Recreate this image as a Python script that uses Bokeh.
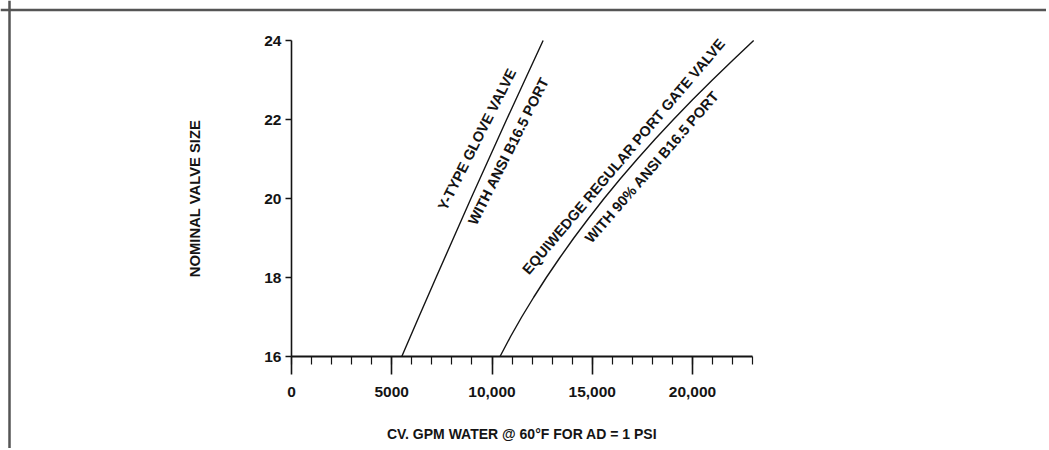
import math
from bokeh.plotting import figure
from bokeh.models import Range1d, FixedTicker, Span
from bokeh.core.properties import value
from bokeh.embed import file_html
from bokeh.resources import INLINE

# ---------------- data ----------------
glove_sizes = [16, 17, 18, 19, 20, 21, 22, 23, 24]
glove_cv = [5500, 6350, 7210, 8080, 8950, 9840, 10730, 11640, 12550]

gate_sizes = [16, 16.5, 17, 17.5, 18, 18.5, 19, 19.5, 20, 20.5,
              21, 21.5, 22, 22.5, 23, 23.5, 24]
gate_cv = [10400, 10920, 11480, 12080, 12710, 13380, 14080, 14820, 15590, 16400,
           17250, 18130, 19050, 20000, 20990, 22010, 23050]

x_major_ticks = [0, 5000, 10000, 15000, 20000]
x_major_labels = ["0", "5000", "10,000", "15,000", "20,000"]
x_minor_ticks = list(range(0, 24000, 1000))
y_ticks = [16, 18, 20, 22, 24]
y_labels = ["16", "18", "20", "22", "24"]

x_title = "CV. GPM WATER @ 60°F FOR AD = 1 PSI"
y_title = "NOMINAL VALVE SIZE"

glove_label_1 = "Y-TYPE GLOVE VALVE"
glove_label_2 = "WITH ANSI B16.5 PORT"
gate_label_1 = "EQUIWEDGE REGULAR PORT GATE VALVE"
gate_label_2 = "WITH 90% ANSI B16.5 PORT"

# ---------------- layout ----------------
W, H = 1046, 448
px_x0, px_per_1000 = 291.0, 20.05      # canvas px of x=0
py_16, py_per_unit = 356.0, 39.5       # canvas px (from top) of y=16

x_start = -px_x0 / px_per_1000 * 1000
x_end = x_start + W / px_per_1000 * 1000
y_end = 16 + py_16 / py_per_unit
y_start = y_end - H / py_per_unit

FONT = "Liberation Sans"
INK = "#141414"

p = figure(width=W, height=H, x_range=Range1d(x_start, x_end),
           y_range=Range1d(y_start, y_end), output_backend="svg",
           toolbar_location=None, min_border=0)
p.grid.visible = False
p.outline_line_color = None
p.background_fill_color = "white"
p.border_fill_color = "white"

# x axis
xa = p.xaxis[0]
xa.fixed_location = 16
xa.bounds = (0, 23000)
xa.ticker = FixedTicker(ticks=x_major_ticks, minor_ticks=x_minor_ticks + [23000])
xa.major_label_overrides = {t: l for t, l in zip(x_major_ticks, x_major_labels)}
xa.axis_line_width = 2.2
xa.axis_line_color = INK
xa.major_tick_in = 0
xa.major_tick_out = 18
xa.major_tick_line_width = 1.6
xa.major_tick_line_color = INK
xa.minor_tick_in = 0
xa.minor_tick_out = 8
xa.minor_tick_line_width = 1.2
xa.minor_tick_line_color = INK
xa.major_label_standoff = 12
xa.major_label_text_font = FONT
xa.major_label_text_font_style = "bold"
xa.major_label_text_font_size = "15.5px"
xa.major_label_text_color = INK
xa.axis_label = x_title
xa.axis_label_text_font = FONT
xa.axis_label_text_font_style = "bold"
xa.axis_label_text_font_size = "14px"
xa.axis_label_text_color = INK
xa.axis_label_standoff = 26

# y axis
ya = p.yaxis[0]
ya.fixed_location = 0
ya.bounds = (16, 24)
ya.ticker = FixedTicker(ticks=y_ticks, minor_ticks=[])
ya.major_label_overrides = {t: l for t, l in zip(y_ticks, y_labels)}
ya.axis_line_width = 1.6
ya.axis_line_color = INK
ya.major_tick_in = 0
ya.major_tick_out = 6
ya.major_tick_line_width = 1.5
ya.major_tick_line_color = INK
ya.minor_tick_line_color = None
ya.major_label_standoff = 4
ya.major_label_text_font = FONT
ya.major_label_text_font_style = "bold"
ya.major_label_text_font_size = "15.5px"
ya.major_label_text_color = INK
ya.axis_label = y_title
ya.axis_label_text_font = FONT
ya.axis_label_text_font_style = "bold"
ya.axis_label_text_font_size = "14.8px"
ya.axis_label_text_color = INK
ya.axis_label_standoff = 58

# frame border (top and left)
border_color = "#555555"
p.add_layout(Span(location=y_end - 9.5 / py_per_unit, dimension="width",
                  line_color=border_color, line_width=2.5))
p.add_layout(Span(location=x_start + 9.0 / px_per_1000 * 1000, dimension="height",
                  line_color=border_color, line_width=2.5))

# curves
p.line(glove_cv, glove_sizes, line_color=INK, line_width=1.4)
p.line(gate_cv, gate_sizes, line_color=INK, line_width=1.4)

# rotated labels
def lbl(x, y, txt, deg):
    p.text(x=[x], y=[y], text=[txt], angle=math.radians(deg),
           text_align="center", text_baseline="middle",
           text_font=value(FONT), text_font_style="bold",
           text_font_size="14.5px", text_color=INK)

lbl(9250, 21.5, glove_label_1, 63.2)
lbl(10820, 21.2, glove_label_2, 63.4)
lbl(16560, 21.06, gate_label_1, 49.6)
lbl(17980, 20.8, gate_label_2, 49.0)

open("out.html", "w").write(file_html(p, INLINE))
